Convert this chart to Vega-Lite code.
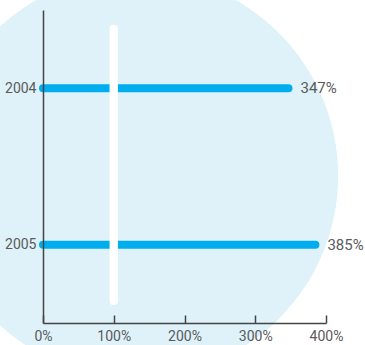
{
  "$schema": "https://vega.github.io/schema/vega-lite/v6.json",
  "autosize": {"type": "none"},
  "padding": {"left": 43, "top": 10, "right": 39, "bottom": 22},
  "width": 283,
  "height": 313,
  "background": "white",
  "config": {
    "view": {"stroke": null},
    "font": "Roboto"
  },
  "data": {"values": [
    {"year": 2004, "value": 347, "label": "347%"},
    {"year": 2005, "value": 385, "label": "385%"}
  ]},
  "layer": [
    {
      "mark": {"type": "point", "filled": true, "size": 163216, "color": "#dff2fa", "opacity": 1, "strokeWidth": 0, "zindex": 0},
      "encoding": {
        "x": {"datum": 131.4, "type": "quantitative"},
        "y": {"datum": 2004.56, "type": "quantitative"}
      }
    },
    {
      "mark": {"type": "rule", "strokeWidth": 8, "strokeCap": "round", "color": "#00aeef", "zindex": 2},
      "encoding": {
        "x": {"field": "value", "type": "quantitative",
          "scale": {"domain": [0, 400], "nice": false, "zero": true},
          "axis": {"values": [0, 100, 200, 300, 400], "labelExpr": "datum.value + '%'", "title": null, "grid": false, "zindex": 1,
            "labelFlush": false, "labelOverlap": false,
            "domainColor": "#444444", "domainWidth": 1.5, "tickColor": "#444444", "tickWidth": 1.5, "tickSize": -8,
            "labelColor": "#5a5a5a", "labelFontSize": 14, "labelPadding": 14, "labelFont": "Roboto"}},
        "x2": {"datum": 0},
        "y": {"field": "year", "type": "quantitative",
          "scale": {"domain": [2003.5, 2005.5], "reverse": true, "nice": false, "zero": false},
          "axis": {"values": [2004, 2005], "format": "d", "title": null, "grid": false, "ticks": false, "zindex": 1,
            "domainColor": "#444444", "domainWidth": 1.5, "labelColor": "#5a5a5a", "labelFontSize": 14,
            "labelPadding": 7, "labelFont": "Roboto"}}
      }
    },
    {
      "mark": {"type": "rule", "strokeWidth": 8, "strokeCap": "round", "color": "white", "zindex": 3},
      "encoding": {
        "x": {"datum": 100, "type": "quantitative"},
        "y": {"datum": 2003.62, "type": "quantitative"},
        "y2": {"datum": 2005.36}
      }
    },
    {
      "mark": {"type": "text", "align": "left", "baseline": "middle", "dx": 12, "fontSize": 15, "color": "#5a5a5a", "font": "Roboto", "zindex": 3},
      "encoding": {
        "x": {"field": "value", "type": "quantitative"},
        "y": {"field": "year", "type": "quantitative"},
        "text": {"field": "label"}
      }
    }
  ]
}
